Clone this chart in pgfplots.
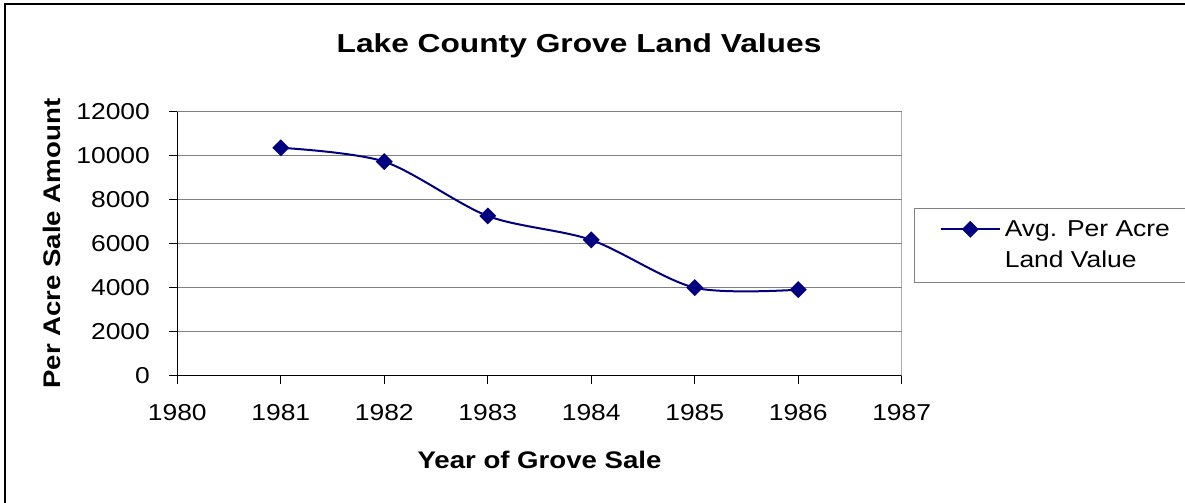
\documentclass[border=0pt]{standalone}
\usepackage{pgfplots}
\pgfplotsset{compat=1.18}
\usepackage{fontspec}
\setmainfont{Liberation Sans}[FakeStretch=1.15]
\newfontfamily\titlefont{Liberation Sans}[FakeStretch=1.22]
\definecolor{navy}{RGB}{0,0,128}
\definecolor{gridgray}{RGB}{128,128,128}

\begin{document}
\begin{tikzpicture}
\useasboundingbox (0,0) rectangle (592.5pt,251.5pt);
\clip (0,0) rectangle (592.5pt,251.5pt);
\draw[black, line width=1pt] (2.5pt,-40pt) rectangle (700pt,249.5pt);
\node[anchor=base, inner sep=0pt, font=\titlefont\fontsize{13}{15}\selectfont\bfseries] at (289.5pt,225pt) {Lake County Grove Land Values};
\begin{axis}[
  at={(88.65pt,63.65pt)}, anchor=south west,
  width=362.2pt, height=132pt, scale only axis,
  xmin=1980, xmax=1987, ymin=0, ymax=12000,
  xtick={1980,1981,1982,1983,1984,1985,1986,1987},
  ytick={0,2000,4000,6000,8000,10000,12000},
  scaled ticks=false,
  /pgf/number format/set thousands separator={},
  /pgf/number format/assume math mode=true,
  axis lines=left, axis line style={-, black, line width=0.6pt},
  tick align=outside, major tick length=4pt, tick style={black, line width=0.5pt},
  ymajorgrids, grid style={gridgray, line width=0.6pt},
  ticklabel style={font=\fontsize{11.5}{13}\selectfont},
  xticklabel style={anchor=north, inner sep=0pt, yshift=-10pt},
  yticklabel style={anchor=east, inner sep=0pt, xshift=-9.5pt},
  xlabel={Year of Grove Sale},
  ylabel={Per Acre Sale Amount},
  every axis x label/.style={at={(axis description cs:0.5,0)}, anchor=base, yshift=-46.5pt, font=\fontsize{12}{14}\selectfont\bfseries},
  every axis y label/.style={at={([xshift=-58.5pt]axis description cs:0,0.5)}, anchor=base, rotate=90, font=\fontsize{12}{14}\selectfont\bfseries},
  legend style={at={(axis description cs:1.0174,0.634)}, anchor=north west,
    draw=gridgray, line width=0.5pt, font=\fontsize{11.5}{15.3}\selectfont,
    inner xsep=12.5pt, inner ysep=3.35pt, row sep=0.3pt,
    nodes={inner ysep=2pt, text height=8.5pt, text depth=2.5pt}},
  legend cell align=left,
  legend image code/.code={\draw[mark repeat=2,mark phase=2,#1] plot coordinates {(0pt,0.6pt) (14.75pt,0.6pt) (29.5pt,0.6pt)};},
]
\draw[gridgray, line width=0.6pt] (rel axis cs:0,1) -- (rel axis cs:1,1) -- (rel axis cs:1,0);
\addplot[navy, line width=1pt, smooth, mark=square*, mark size=2.5pt, mark options={solid, fill=navy, rotate=45}]
  coordinates {(1981,10360) (1982,9730) (1983,7260) (1984,6170) (1985,4000) (1986,3910)};
\addlegendentry{Avg. Per Acre\hspace*{40pt}}
\addlegendimage{empty legend}
\addlegendentry{Land Value}
\end{axis}
\end{tikzpicture}
\end{document}
